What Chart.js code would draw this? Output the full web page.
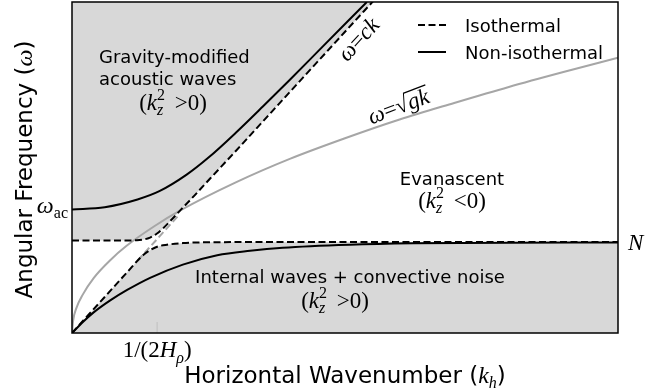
<!DOCTYPE html>
<html>
<head>
<meta charset="utf-8">
<script src="https://cdn.jsdelivr.net/npm/chart.js@4.4.1/dist/chart.umd.min.js"></script>
<style>
  html, body { margin: 0; padding: 0; background: #fff; }
  #wrap { width: 668px; height: 392px; }
</style>
</head>
<body>
<div id="wrap"><canvas id="chart" width="668" height="392"></canvas></div>
<script>
(function () {
  'use strict';

  // axis extents (arbitrary units)
  var K_RANGE = [0, 10];
  var W_RANGE = [0, 6];

  // marked values on the axes
  var N_FREQ = 1.645;
  var W_AC = 2.24;
  var K_RHO = 1.56;

  // isothermal branches
  var isoAcousticK = [0, 0.6, 1.19, 1.43, 1.55, 1.67, 1.8, 2.0, 2.25, 2.53, 3.0, 4.0, 5.0, 5.52];
  var isoAcousticW = [1.675, 1.675, 1.68, 1.73, 1.80, 1.90, 2.03, 2.24, 2.50, 2.80, 3.30, 4.38, 5.46, 6.02];
  var isoGravityK = [0, 0.5, 1.0, 1.3, 1.43, 1.58, 1.74, 2.03, 2.6, 4, 10];
  var isoGravityW = [0, 0.545, 1.09, 1.41, 1.50, 1.57, 1.60, 1.63, 1.645, 1.65, 1.65];

  // non-isothermal branches
  var nonIsoAcousticK = [0, 0.6, 1.2, 1.6, 2.1, 2.5, 3.0, 3.5, 4.0, 4.5, 5.0, 5.4];
  var nonIsoAcousticW = [2.24, 2.28, 2.42, 2.57, 2.87, 3.18, 3.63, 4.11, 4.60, 5.10, 5.60, 6.0];
  var nonIsoGravityK = [0, 0.2, 0.38, 0.7, 1.01, 1.43, 2.03, 2.66, 3.26, 3.86, 5.09, 6.25, 8, 10];
  var nonIsoGravityW = [0, 0.2, 0.36, 0.59, 0.78, 1.0, 1.24, 1.41, 1.49, 1.545, 1.60, 1.625, 1.638, 1.64];

  // surface gravity wave and sound line
  var sqrtK = [0, 0.02, 0.08, 0.2, 0.4, 0.7, 1.0, 1.5, 2, 3, 4, 5, 6, 7, 8, 9, 10];
  var sqrtW = [0, 0.22, 0.45, 0.7, 1.0, 1.32, 1.58, 1.93, 2.23, 2.73, 3.16, 3.53, 3.87, 4.17, 4.46, 4.73, 4.99];
  var soundK = [1.2, 1.95];
  var soundW = [1.31, 2.13];

  var SANS = '"DejaVu Sans", sans-serif';
  var SERIF = '"Liberation Serif", serif';
  var SHADE = '#d8d8d8';
  var GREY = '#a6a6a6';
  var DASH = [7, 3.5];

  function pts(xs, ys) {
    return xs.map(function (x, i) { return { x: x, y: ys[i] }; });
  }

  function sans(sz) { return sz + 'px ' + SANS; }
  function serif(sz) { return sz + 'px ' + SERIF; }
  function ital(sz) { return 'italic ' + sz + 'px ' + SERIF; }

  // draw a run of text pieces on one baseline: [text, font, dy, noAdvance]
  function drawRuns(ctx, runs, x, y, align) {
    var total = 0;
    runs.forEach(function (r) {
      ctx.font = r[1];
      if (!r[3]) total += ctx.measureText(r[0]).width;
    });
    var cx = align === 'center' ? x - total / 2 : (align === 'right' ? x - total : x);
    ctx.textAlign = 'left';
    ctx.textBaseline = 'alphabetic';
    runs.forEach(function (r) {
      ctx.font = r[1];
      ctx.fillText(r[0], cx, y + (r[2] || 0));
      if (!r[3]) cx += ctx.measureText(r[0]).width;
    });
    return total;
  }

  function kzRuns(sign) {
    return [
      ['(', serif(23)],
      ['k', ital(23)],
      ['2', serif(16), -10, true],
      ['z', ital(16), 5],
      ['  ' + sign + '0)', serif(23)]
    ];
  }

  var annotate = {
    id: 'annotate',
    afterDatasetsDraw: function (chart) {
      var ctx = chart.ctx;
      var a = chart.chartArea;
      var xs = chart.scales.x, ys = chart.scales.y;
      function px(k) { return xs.getPixelForValue(k); }
      function py(w) { return ys.getPixelForValue(w); }

      ctx.save();
      ctx.fillStyle = '#000';

      // 1/(2H_rho) tick, drawn inward
      ctx.strokeStyle = '#c8c8c8';
      ctx.lineWidth = 1.5;
      ctx.beginPath();
      ctx.moveTo(px(K_RHO), a.bottom);
      ctx.lineTo(px(K_RHO), a.bottom - 11);
      ctx.stroke();

      // frame
      ctx.strokeStyle = '#000';
      ctx.lineWidth = 1.5;
      ctx.strokeRect(a.left, a.top, a.right - a.left, a.bottom - a.top);

      // region labels
      drawRuns(ctx, [['Gravity-modified', sans(18)]], 99, 63, 'left');
      drawRuns(ctx, [['acoustic waves', sans(18)]], 99, 85, 'left');
      drawRuns(ctx, kzRuns('>'), 173, 110, 'center');
      drawRuns(ctx, [['Evanascent', sans(18)]], 452, 185, 'center');
      drawRuns(ctx, kzRuns('<'), 452, 208, 'center');
      drawRuns(ctx, [['Internal waves + convective noise', sans(18)]], 350, 283, 'center');
      drawRuns(ctx, kzRuns('>'), 335, 308, 'center');

      // omega = ck along the sound line
      ctx.save();
      ctx.translate(px(5.25), py(5.32));
      ctx.rotate(-Math.atan2(py(0) - py(1.09), px(1) - px(0)));
      drawRuns(ctx, [['\u03c9', ital(23)], ['=', serif(23)], ['ck', ital(23)]], 0, 7, 'center');
      ctx.restore();

      // omega = sqrt(gk) along the gravity wave curve
      ctx.save();
      ctx.translate(px(5.98), py(4.1));
      ctx.rotate(-0.36);
      var w0 = drawRuns(ctx, [['\u03c9', ital(23)], ['=', serif(23)], ['\u221a', serif(23)], ['gk', ital(23)]], 0, 7, 'center');
      ctx.font = ital(23);
      var gkW = ctx.measureText('gk').width;
      ctx.lineWidth = 1.3;
      ctx.beginPath();
      ctx.moveTo(w0 / 2 - gkW - 1, -11);
      ctx.lineTo(w0 / 2 + 1, -11);
      ctx.stroke();
      ctx.restore();

      // axis marks
      drawRuns(ctx, [['\u03c9', ital(24)], ['ac', serif(16), 5]], a.left - 4, py(W_AC) + 4, 'right');
      drawRuns(ctx, [['N', ital(23)]], a.right + 10, py(N_FREQ) + 8, 'left');
      drawRuns(ctx, [['1/(2', serif(23)], ['H', ital(23)], ['\u03c1', ital(16), 6], [')', serif(23)]],
        px(K_RHO), 357, 'center');

      // axis titles
      drawRuns(ctx, [['Horizontal Wavenumber (', sans(23)], ['k', ital(24)], ['h', ital(16), 5], [')', sans(23)]],
        (a.left + a.right) / 2, 383, 'center');
      ctx.save();
      ctx.translate(32, (a.top + a.bottom) / 2 + 2);
      ctx.rotate(-Math.PI / 2);
      drawRuns(ctx, [['Angular Frequency (', sans(23)], ['\u03c9', ital(24)], [')', sans(23)]], 0, 0, 'center');
      ctx.restore();

      // legend
      ctx.lineWidth = 2;
      ctx.strokeStyle = '#000';
      ctx.setLineDash(DASH);
      ctx.beginPath();
      ctx.moveTo(418, 25);
      ctx.lineTo(446, 25);
      ctx.stroke();
      ctx.setLineDash([]);
      ctx.beginPath();
      ctx.moveTo(418, 52);
      ctx.lineTo(446, 52);
      ctx.stroke();
      drawRuns(ctx, [['Isothermal', sans(18)]], 465, 32, 'left');
      drawRuns(ctx, [['Non-isothermal', sans(18)]], 465, 59, 'left');

      ctx.restore();
    }
  };

  function line(data, color, dash, extra) {
    var ds = {
      data: data,
      borderColor: color,
      borderWidth: 2,
      borderDash: dash || [],
      pointRadius: 0,
      cubicInterpolationMode: 'monotone',
      fill: false
    };
    for (var key in extra) ds[key] = extra[key];
    return ds;
  }

  new Chart(document.getElementById('chart'), {
    type: 'line',
    data: {
      datasets: [
        line(pts(isoAcousticK, isoAcousticW), '#000', DASH, { fill: 'end', backgroundColor: SHADE, order: 1 }),
        line(pts(isoGravityK, isoGravityW), '#000', DASH, { fill: 'start', backgroundColor: SHADE, order: 1 }),
        line(pts(sqrtK, sqrtW), GREY, null, { order: 3 }),
        line(pts(soundK, soundW), GREY, DASH, { order: 3 }),
        line(pts(nonIsoAcousticK, nonIsoAcousticW), '#000', null, { order: 0 }),
        line(pts(nonIsoGravityK, nonIsoGravityW), '#000', null, { order: 0 })
      ]
    },
    options: {
      responsive: false,
      animation: false,
      layout: { padding: { left: 72, right: 50, top: 2, bottom: 59 } },
      scales: {
        x: { type: 'linear', min: K_RANGE[0], max: K_RANGE[1], display: false },
        y: { type: 'linear', min: W_RANGE[0], max: W_RANGE[1], display: false }
      },
      plugins: {
        legend: { display: false },
        tooltip: { enabled: false },
        filler: { drawTime: 'beforeDatasetsDraw' }
      }
    },
    plugins: [annotate]
  });
})();
</script>
</body>
</html>
